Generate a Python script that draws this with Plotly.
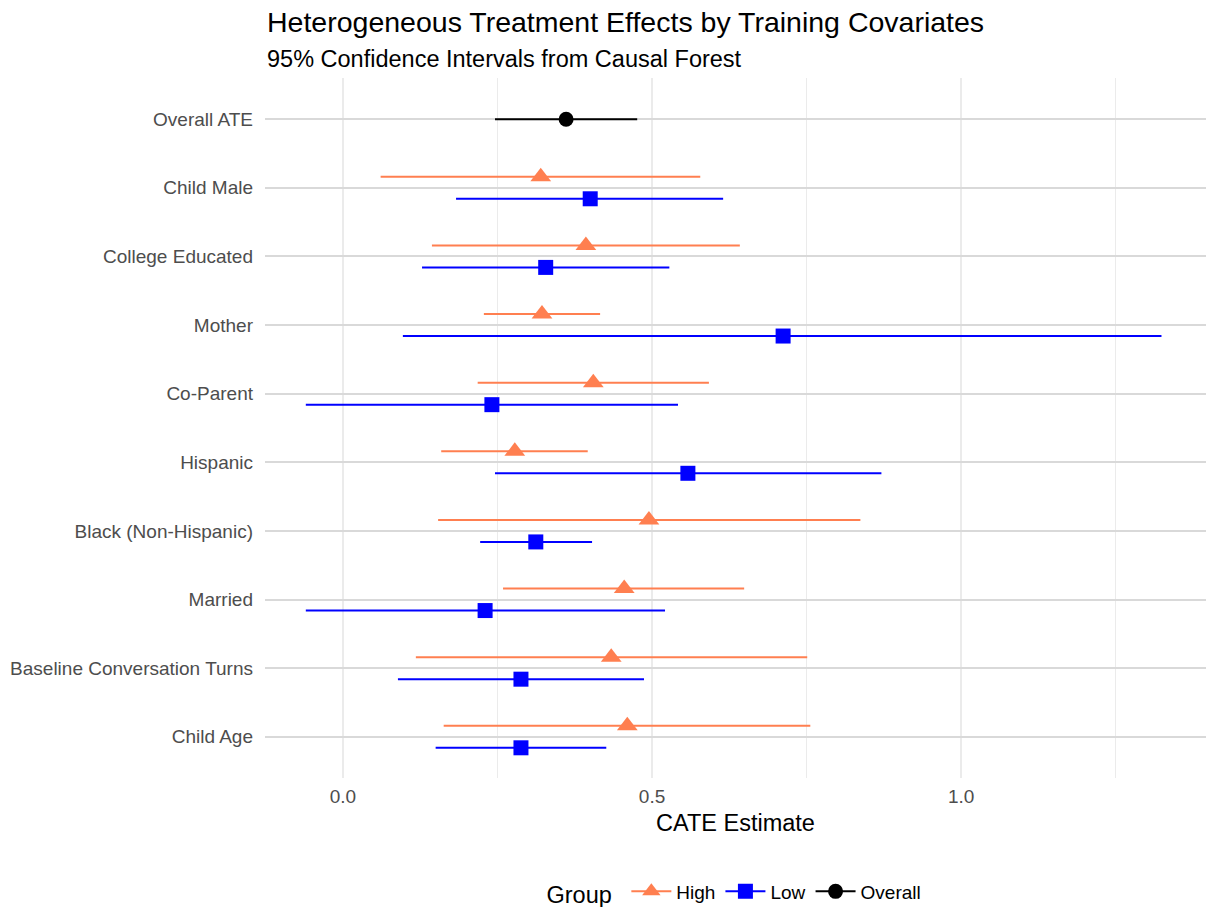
import plotly.graph_objects as go

categories = ["Overall ATE", "Child Male", "College Educated", "Mother", "Co-Parent",
              "Hispanic", "Black (Non-Hispanic)", "Married", "Baseline Conversation Turns", "Child Age"]

overall_est = [0.361]
overall_lo = [0.246]
overall_hi = [0.476]

high_cats = categories[1:]
high_est = [0.320, 0.393, 0.322, 0.405, 0.278, 0.495, 0.455, 0.434, 0.460]
high_lo = [0.061, 0.144, 0.228, 0.218, 0.159, 0.154, 0.259, 0.118, 0.163]
high_hi = [0.578, 0.642, 0.416, 0.592, 0.396, 0.837, 0.649, 0.751, 0.756]

low_cats = categories[1:]
low_est = [0.400, 0.328, 0.712, 0.241, 0.558, 0.312, 0.230, 0.288, 0.288]
low_lo = [0.183, 0.128, 0.097, -0.060, 0.246, 0.222, -0.060, 0.089, 0.150]
low_hi = [0.615, 0.528, 1.324, 0.542, 0.871, 0.403, 0.521, 0.487, 0.426]

DODGE = 0.16
pos = {c: i for i, c in enumerate(categories)}

fig = go.Figure()

def add_group(name, cats, est, lo, hi, color, symbol, size, offset):
    ys = [pos[c] + offset for c in cats]
    fig.add_trace(go.Scatter(
        x=est, y=ys, mode="markers", showlegend=False,
        marker=dict(color=color, symbol=symbol, size=size, line=dict(width=0)),
        error_x=dict(type="data", symmetric=False,
                     array=[h - e for h, e in zip(hi, est)],
                     arrayminus=[e - l for e, l in zip(est, lo)],
                     color=color, thickness=2, width=0),
    ))
    fig.add_trace(go.Scatter(
        x=[None], y=[None], mode="lines+markers", name=name,
        line=dict(color=color, width=2),
        marker=dict(color=color, symbol=symbol, size=size),
    ))

add_group("High", high_cats, high_est, high_lo, high_hi, "#FF7F50", "triangle-up", 18, -DODGE)
add_group("Low", low_cats, low_est, low_lo, low_hi, "#0000FF", "square", 15, DODGE)
add_group("Overall", categories[:1], overall_est, overall_lo, overall_hi, "#000000", "circle", 15, 0)

fig.add_shape(type="line", xref="x", yref="paper", x0=0, x1=0, y0=0, y1=1,
              line=dict(color="#7f7f7f", width=1.6, dash="dash"), layer="below")

FONT = "Liberation Sans, Arial, Helvetica, sans-serif"

fig.add_annotation(text="Heterogeneous Treatment Effects by Training Covariates",
                   xref="paper", yref="paper", x=0, y=(778 - 22) / 700,
                   xanchor="left", yanchor="middle", showarrow=False,
                   font=dict(size=28.5, color="#000000", family=FONT))
fig.add_annotation(text="95% Confidence Intervals from Causal Forest",
                   xref="paper", yref="paper", x=0, y=(778 - 59) / 700,
                   xanchor="left", yanchor="middle", showarrow=False,
                   font=dict(size=23.5, color="#000000", family=FONT))

fig.update_layout(
    width=1206, height=907,
    paper_bgcolor="white", plot_bgcolor="white",
    margin=dict(l=265, r=0, t=78, b=129, autoexpand=False),
    font=dict(family=FONT, color="#000000"),
    xaxis=dict(
        range=[-0.126, 1.396],
        tickvals=[0, 0.5, 1.0], ticktext=["0.0", "0.5", "1.0"],
        showgrid=True, gridcolor="#ebebeb", gridwidth=1.8,
        minor=dict(tickvals=[0.25, 0.75, 1.25], showgrid=True, gridcolor="#ebebeb", gridwidth=1),
        zeroline=False, showline=False, ticks="",
        tickfont=dict(size=19, color="#4d4d4d"),
        ticklabelstandoff=5, automargin=False,
        title=dict(text="CATE Estimate", font=dict(size=23.5, color="#000000"), standoff=8),
    ),
    yaxis=dict(
        range=[9.6, -0.6],
        tickvals=list(range(len(categories))), ticktext=categories,
        showgrid=True, gridcolor="#d9d9d9", gridwidth=2,
        zeroline=False, showline=False, ticks="",
        tickfont=dict(size=19, color="#4d4d4d"),
        ticklabelstandoff=11, automargin=False,
    ),
    legend=dict(
        orientation="h", x=0.5, xanchor="center", y=-(893 - 778) / 700, yanchor="middle",
        title=dict(text="Group ", font=dict(size=23.5), side="left"),
        font=dict(size=19, color="#000000"),
        itemwidth=40, traceorder="normal",
    ),
)

fig.write_html("out.html")
